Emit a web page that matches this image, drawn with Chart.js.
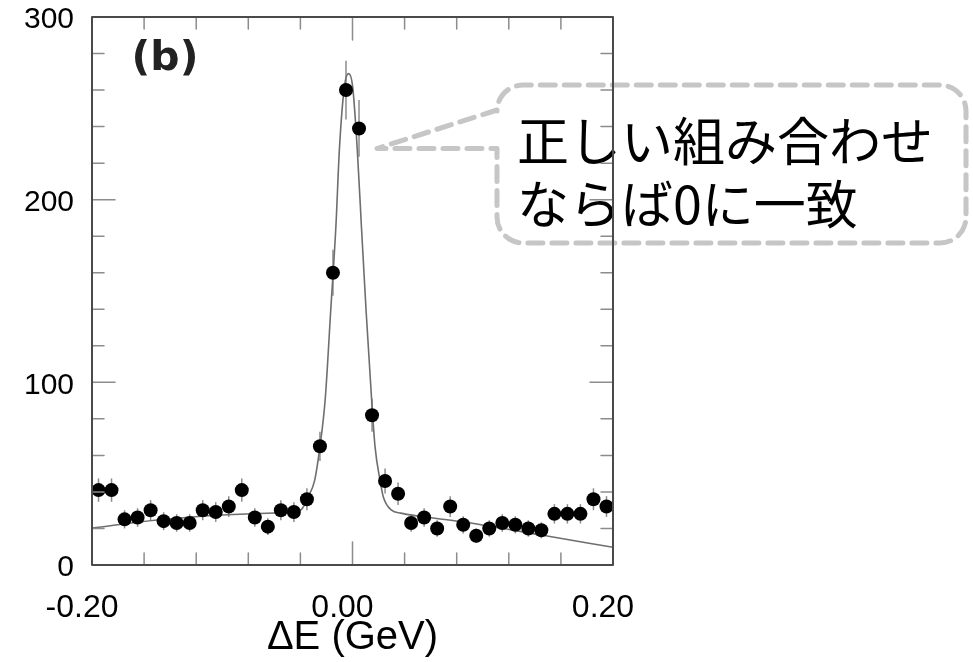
<!DOCTYPE html>
<html>
<head>
<meta charset="utf-8">
<script src="https://cdn.jsdelivr.net/npm/chart.js@4.4.1/dist/chart.umd.min.js"></script>
<style>
  html, body { margin: 0; padding: 0; background: #fff; }
  #c { display: block; }
</style>
</head>
<body>
<canvas id="c" width="973" height="662"></canvas>
<script>
// ΔE distribution, 0.01 GeV bins
var binCenters = [-0.195, -0.185, -0.175, -0.165, -0.155, -0.145, -0.135, -0.125, -0.115, -0.105,
                  -0.095, -0.085, -0.075, -0.065, -0.055, -0.045, -0.035, -0.025, -0.015, -0.005,
                   0.005,  0.015,  0.025,  0.035,  0.045,  0.055,  0.065,  0.075,  0.085,  0.095,
                   0.105,  0.115,  0.125,  0.135,  0.145,  0.155,  0.165,  0.175,  0.185,  0.195];
var counts = [41, 41, 25, 26, 30, 24, 23, 23, 30, 29,
              32, 41, 26, 21, 30, 29, 36, 65, 160, 260,
              239, 82, 46, 39, 23, 26, 20, 32, 22, 16,
              20, 23, 22, 20, 19, 28, 28, 28, 36, 32];
var errors = [6.4, 6.4, 5.0, 5.1, 5.5, 4.9, 4.8, 4.8, 5.5, 5.4,
              5.7, 6.4, 5.1, 4.6, 5.5, 5.4, 6.0, 8.0, 12.6, 16.1,
              15.5, 9.0, 6.8, 6.2, 4.8, 5.1, 4.5, 5.7, 4.7, 4.0,
              4.5, 4.8, 4.7, 4.5, 4.4, 5.3, 5.3, 5.3, 6.0, 5.7];

// fitted curve (signal + background)
var fitX = [-0.2, -0.15, -0.1, -0.06, -0.04, -0.034, -0.029, -0.025, -0.021, -0.0167, -0.0127, -0.0101,
            -0.0062, -0.003, 0.0001, 0.0037, 0.0068, 0.0104, 0.0147, 0.0173, 0.0211, 0.0236, 0.03,
            0.037, 0.05, 0.084, 0.145, 0.2];
var fitY = [20.2, 24.6, 27.4, 28.5, 30, 37.4, 46.5, 64.8, 90.3, 139.6, 186, 227,
            262, 269, 262, 227, 186, 139.6, 90.3, 64.8, 46.5, 37.4, 30,
            28.4, 26.8, 23.7, 16.4, 9.7];

// axis ticks
var xMinorTicks = [-0.16, -0.12, -0.08, -0.04, 0.04, 0.08, 0.12, 0.16];
var xMajorTicks = [0];
var yMinorTicks = [20, 40, 60, 80, 120, 140, 160, 180, 220, 240, 260, 280];
var yMajorTicks = [100, 200];

var calloutLines = ['正しい組み合わせ', 'ならば0に一致'];
var panelLabel = '(b)';

var points = binCenters.map(function (x, i) { return { x: x, y: counts[i] }; });
var curve = fitX.map(function (x, i) { return { x: x, y: fitY[i] }; });

function line(ctx, x1, y1, x2, y2) {
  ctx.beginPath();
  ctx.moveTo(x1, y1);
  ctx.lineTo(x2, y2);
  ctx.stroke();
}

var decorations = {
  id: 'decorations',
  beforeDatasetsDraw: function (chart) {
    var ctx = chart.ctx, xs = chart.scales.x, ys = chart.scales.y;
    ctx.save();
    ctx.strokeStyle = '#8c8c8c';
    ctx.lineWidth = 1.5;
    for (var i = 0; i < counts.length; i++) {
      var px = xs.getPixelForValue(binCenters[i]);
      line(ctx, px, ys.getPixelForValue(counts[i] - errors[i]), px, ys.getPixelForValue(counts[i] + errors[i]));
    }
    ctx.restore();
  },
  afterDraw: function (chart) {
    var ctx = chart.ctx, a = chart.chartArea, xs = chart.scales.x, ys = chart.scales.y;
    ctx.save();

    // callout box with pointer
    var L = 497, R = 966, T = 85, B = 243, r = 26;
    var tipX = xs.getPixelForValue(0.0188), tipY = ys.getPixelForValue(228);
    ctx.strokeStyle = '#c6c6c6';
    ctx.lineWidth = 5;
    ctx.lineCap = 'round';
    ctx.lineJoin = 'round';
    ctx.setLineDash([15, 9]);
    ctx.beginPath();
    ctx.moveTo(L, 110);
    ctx.lineTo(tipX, tipY);
    ctx.lineTo(L, tipY);
    ctx.arcTo(L, B, R, B, r);
    ctx.arcTo(R, B, R, T, r);
    ctx.arcTo(R, T, L, T, r);
    ctx.arcTo(L, T, L, B, r);
    ctx.lineTo(L, 110);
    ctx.stroke();
    ctx.setLineDash([]);

    ctx.fillStyle = '#000';
    ctx.font = '52px "Noto Sans CJK JP"';
    ctx.textBaseline = 'middle';
    ctx.textAlign = 'left';
    ctx.fillText(calloutLines[0], 517, 141);
    ctx.fillText(calloutLines[1], 517, 204);

    ctx.fillStyle = '#222';
    ctx.font = 'bold 41px "DejaVu Sans"';
    ctx.textAlign = 'center';
    ctx.fillText(panelLabel, a.left + 73, a.top + 42);

    // inward ticks on all four sides
    ctx.strokeStyle = '#8c8c8c';
    ctx.lineWidth = 1.5;
    xMinorTicks.concat(xMajorTicks).forEach(function (v) {
      var px = xs.getPixelForValue(v), len = xMajorTicks.indexOf(v) >= 0 ? 23 : 12;
      line(ctx, px, a.bottom, px, a.bottom - len);
      line(ctx, px, a.top, px, a.top + len);
    });
    yMinorTicks.concat(yMajorTicks).forEach(function (v) {
      var py = ys.getPixelForValue(v), len = yMajorTicks.indexOf(v) >= 0 ? 23 : 12;
      line(ctx, a.left, py, a.left + len, py);
      line(ctx, a.right, py, a.right - len, py);
    });

    ctx.strokeStyle = '#4a4a4a';
    ctx.lineWidth = 2;
    ctx.strokeRect(a.left, a.top, a.right - a.left, a.bottom - a.top);
    ctx.restore();
  }
};

new Chart(document.getElementById('c'), {
  type: 'scatter',
  data: {
    datasets: [
      {
        data: curve,
        showLine: true,
        borderColor: '#6e6e6e',
        borderWidth: 1.6,
        pointRadius: 0,
        cubicInterpolationMode: 'monotone',
        order: 2
      },
      {
        data: points,
        pointRadius: 7,
        pointBackgroundColor: '#000',
        pointBorderWidth: 0,
        order: 1
      }
    ]
  },
  options: {
    responsive: false,
    animation: false,
    devicePixelRatio: 1,
    layout: { padding: { left: 0, top: 17, right: 360, bottom: 0 } },
    plugins: { legend: { display: false }, tooltip: { enabled: false } },
    scales: {
      x: {
        type: 'linear',
        min: -0.2,
        max: 0.2,
        grid: { display: false, drawTicks: false },
        border: { display: false },
        ticks: {
          stepSize: 0.2,
          padding: 24,
          labelOffset: -10,
          color: '#000',
          font: { family: '"Liberation Sans", Arial, sans-serif', size: 32 },
          callback: function (v) { return Math.abs(v) < 1e-9 ? '0.00' : v.toFixed(2); }
        },
        title: {
          display: true,
          text: 'ΔE (GeV)',
          color: '#000',
          padding: { top: 0, bottom: 0 },
          font: { family: '"Liberation Sans", Arial, sans-serif', size: 40, lineHeight: 1.2 }
        },
        afterFit: function (s) { s.height = 97; s.paddingLeft = 0; s.paddingRight = 0; }
      },
      y: {
        min: 0,
        max: 300,
        grid: { display: false, drawTicks: false },
        border: { display: false },
        ticks: {
          stepSize: 100,
          padding: 18,
          labelOffset: 3,
          color: '#000',
          font: { family: '"Liberation Sans", Arial, sans-serif', size: 30 }
        },
        afterFit: function (s) { s.width = 92; s.paddingTop = 0; s.paddingBottom = 0; }
      }
    }
  },
  plugins: [decorations]
});
</script>
</body>
</html>
